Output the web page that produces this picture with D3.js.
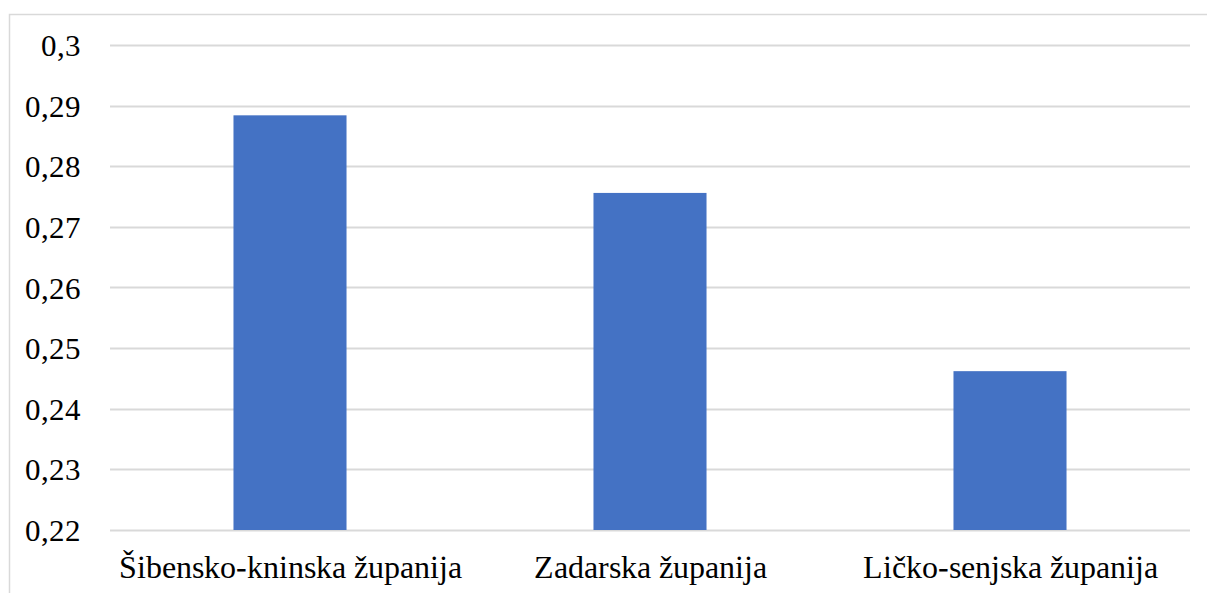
<!DOCTYPE html>
<html><head><meta charset="utf-8">
<script src="https://cdn.jsdelivr.net/npm/d3@7"></script>
<style>
@font-face { font-family: "RefSerif"; src: local("Liberation Serif"), local("LiberationSerif"), local("LiberationSerif-Regular"), local("Tinos"), local("Times New Roman"); }
html,body{margin:0;padding:0;background:#fff;overflow:hidden}
svg#chart, svg#chart text { font-family: "RefSerif", "Liberation Serif", Tinos, "Times New Roman", "Nimbus Roman", FreeSerif, Georgia; }
</style>
</head><body>
<svg id="chart" width="1207" height="593"></svg>
<script>
const categories = ["Šibensko-kninska županija", "Zadarska županija", "Ličko-senjska županija"];
const values = [0.2884, 0.2756, 0.2462];
const yTicks = [0.22, 0.23, 0.24, 0.25, 0.26, 0.27, 0.28, 0.29, 0.3];
const yTickLabels = ["0,22", "0,23", "0,24", "0,25", "0,26", "0,27", "0,28", "0,29", "0,3"];

(function () {
const svg = d3.select("#chart");
const mLeft = 110, mRight = 1190, mTop = 45, mBottom = 530;
const fam = '"RefSerif", "Liberation Serif", Tinos, "Times New Roman", "Nimbus Roman", FreeSerif, Georgia';

// chart border
svg.append("rect").attr("x", 9.5).attr("y", 14.5).attr("width", 1210).attr("height", 600)
  .attr("fill", "none").attr("stroke", "#d9d9d9").attr("stroke-width", 1.5);

const x = d3.scaleBand().domain(categories).range([mLeft, mRight]).paddingInner(0.686).paddingOuter(0.343);
const y = d3.scaleLinear().domain([0.22, 0.3]).range([mBottom, mTop]);

// gridlines
svg.append("g").selectAll("line").data(yTicks).join("line")
  .attr("x1", mLeft).attr("x2", mRight)
  .attr("y1", d => Math.round(y(d)) + 0.5).attr("y2", d => Math.round(y(d)) + 0.5)
  .attr("stroke", "#d9d9d9").attr("stroke-width", 2);

// bars
svg.append("g").selectAll("rect").data(values).join("rect")
  .attr("x", (d, i) => x(categories[i]))
  .attr("width", x.bandwidth())
  .attr("y", d => y(d))
  .attr("height", d => y(0.22) - y(d))
  .attr("fill", "#4472c4");

// y axis
const yAxis = d3.axisLeft(y).tickValues(yTicks).tickFormat((d, i) => yTickLabels[i]).tickSize(0).tickPadding(0);
const gy = svg.append("g").attr("transform", "translate(81,0)").call(yAxis);
gy.attr("font-family", null).attr("font-size", null);
gy.select(".domain").remove();
gy.selectAll("text").style("font-family", fam).style("font-size", "31px")
  .attr("fill", "#000").attr("dy", "0.34em");

// x axis
const xAxis = d3.axisBottom(x).tickSize(0).tickPadding(0);
const gx = svg.append("g").attr("transform", `translate(0,${mBottom})`).call(xAxis);
gx.attr("font-family", null).attr("font-size", null);
gx.select(".domain").remove();
gx.selectAll("text").style("font-family", fam).style("font-size", "32px")
  .attr("fill", "#000").attr("dy", "1.5em");
})();
</script>
</body></html>
